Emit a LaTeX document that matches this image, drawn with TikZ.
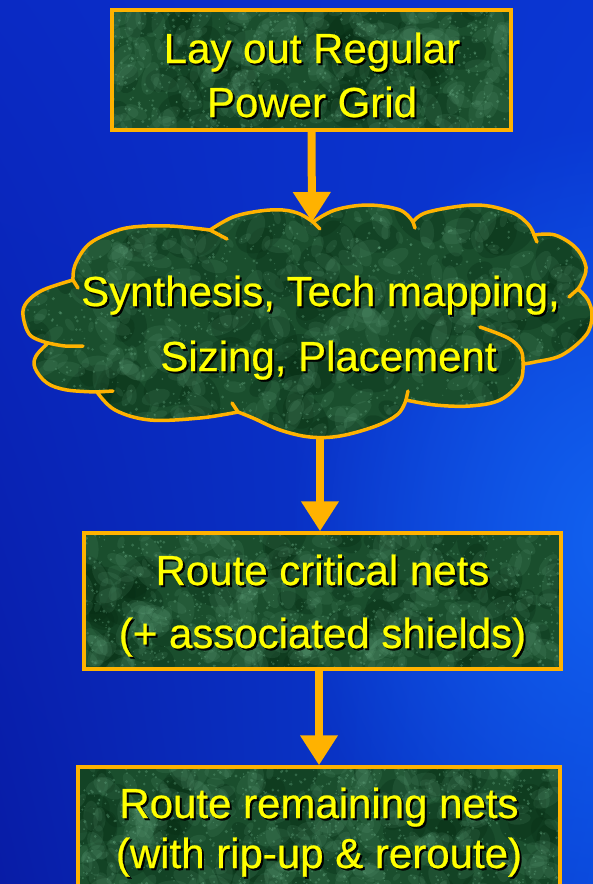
\documentclass[tikz,border=0pt]{standalone}
\usepackage{fontspec}
\setmainfont{Liberation Sans}
\usetikzlibrary{arrows.meta,fadings,shadings}
\tikzfading[name=glowfade, inner color=transparent!0, outer color=transparent!100]
\definecolor{bgUL}{HTML}{0A2AC4}
\definecolor{bgUR}{HTML}{0A36D2}
\definecolor{bgLL}{HTML}{081CA6}
\definecolor{bgLR}{HTML}{0A46DA}
\definecolor{glowc}{HTML}{1262F0}
\definecolor{gold}{HTML}{FFB200}
\definecolor{txty}{HTML}{FFFF00}
\definecolor{mbase}{HTML}{1A4E2D}
\definecolor{mdark}{HTML}{062C14}
\definecolor{mlight}{HTML}{6CAE88}
\newcommand\shtxt[1]{\rlap{\kern2pt\raisebox{-2pt}{\textcolor{black}{#1}}}\textcolor{txty}{#1}}
\newcommand\marble[8]{%
  \pgfmathsetseed{#1}%
  \fill[mbase] (#2,#3) rectangle (#4,#5);
  \foreach \i in {1,...,#6}{%
    \pgfmathsetmacro\mx{#2+rnd*(#4-#2)}%
    \pgfmathsetmacro\my{#3+rnd*(#5-#3)}%
    \pgfmathsetmacro\mr{8+rnd*16}%
    \pgfmathsetmacro\ma{rnd*180}%
    \fill[mdark,opacity=0.3,rotate around={\ma:(\mx,\my)}] (\mx,\my) ellipse [x radius=1.3*\mr, y radius=0.9*\mr];
  }
  \foreach \i in {1,...,#7}{%
    \pgfmathsetmacro\mx{#2+rnd*(#4-#2)}%
    \pgfmathsetmacro\my{#3+rnd*(#5-#3)}%
    \pgfmathsetmacro\mr{3+rnd*9}%
    \pgfmathsetmacro\ma{rnd*180}%
    \fill[mlight,opacity=0.13,rotate around={\ma:(\mx,\my)}] (\mx,\my) ellipse [x radius=1.5*\mr, y radius=0.75*\mr];
  }
  \foreach \i in {1,...,#8}{%
    \pgfmathsetmacro\mx{#2+rnd*(#4-#2)}%
    \pgfmathsetmacro\my{#3+rnd*(#5-#3)}%
    \pgfmathsetmacro\mr{0.5+rnd*1.2}%
    \fill[mlight,opacity=0.35] (\mx,\my) circle [radius=\mr];
  }
}
\tikzset{
  gbox/.style={draw=gold, line width=3.5pt, inner sep=0pt},
  btxt/.style={anchor=base, inner sep=0pt, font=\fontsize{42}{50}\selectfont\addfontfeature{FakeBold=0.6}},
  cloudline/.style={draw=gold, line width=3.5pt, line join=round, line cap=round},
  flow/.style={draw=gold, line width=8pt, -{Triangle[width=36pt,length=30pt]}}
}
\begin{document}
\begin{tikzpicture}[x=1pt,y=-1pt]
\useasboundingbox (0,0) rectangle (593,884);
\clip (0,0) rectangle (593,884);
\shade[upper left=bgUL, upper right=bgUR, lower left=bgLL, lower right=bgLR] (0,0) rectangle (593,884);
\fill[glowc, path fading=glowfade] (620,540) ellipse [x radius=330, y radius=420];

% box textures
\begin{scope}
  \clip (112,10) rectangle (511,130);
  \marble{11}{112}{10}{511}{130}{45}{220}{700}
\end{scope}
\begin{scope}
  \clip (84,533) rectangle (561,669);
  \marble{23}{84}{533}{561}{669}{60}{280}{900}
\end{scope}
\begin{scope}
  \clip (78,767) rectangle (560,895);
  \marble{37}{78}{767}{560}{895}{60}{280}{900}
\end{scope}

% cloud
\path[save path=\cloudp]
  plot[smooth,tension=0.6] coordinates {(313,222) (335,210) (368,205) (400,210) (413,222)}
  -- plot[smooth,tension=0.6] coordinates {(413,222) (428,212) (476,205) (511,212) (528,224) (534,235)}
  -- plot[smooth,tension=0.6] coordinates {(534,235) (555,235) (576,248) (586,267) (582,282) (578,289)}
  -- plot[smooth,tension=0.6] coordinates {(578,289) (588,300) (592,316) (586,335) (562,355) (535,362) (523,364)}
  -- plot[smooth,tension=0.6] coordinates {(523,364) (520,382) (500,400) (470,406) (435,405) (406,400)}
  -- plot[smooth,tension=0.6] coordinates {(406,400) (398,414) (376,426) (340,436) (310,437) (280,430) (253,418) (238,412)}
  -- plot[smooth,tension=0.6] coordinates {(238,412) (200,418) (150,420) (115,410) (97,392)}
  -- plot[smooth,tension=0.6] coordinates {(97,392) (67,390) (47,383) (35,368) (36,356) (48,343)}
  -- plot[smooth,tension=0.6] coordinates {(48,343) (30,335) (23,315) (27,302) (43,290) (73,280)}
  -- plot[smooth,tension=0.6] coordinates {(73,280) (75,265) (88,245) (110,233) (133,227) (170,226) (210,230)}
  -- plot[smooth,tension=0.6] coordinates {(210,230) (233,217) (260,211) (283,210) (300,214) (313,222)}
  -- cycle;
\begin{scope}
  \clip[use path=\cloudp];
  \marble{51}{18}{200}{596}{442}{90}{400}{1300}
\end{scope}
\path[cloudline, use path=\cloudp];
% inner arcs of the cloud
\draw[cloudline] (313,222) -- (320,229);
\draw[cloudline] (413,222) -- (415,228);
\draw[cloudline] (534,235) -- (537,242);
\draw[cloudline] (578,289) -- (569,297);
\draw[cloudline] plot[smooth,tension=0.6] coordinates {(523,364) (521,350) (508,338) (480,327)};
\draw[cloudline] (406,400) -- (408,391);
\draw[cloudline] (238,412) -- (232,403);
\draw[cloudline] (97,392) -- (113,391);
\draw[cloudline] plot[smooth,tension=0.6] coordinates {(48,343) (65,346) (83,346)};
\draw[cloudline] (73,280) -- (78,288);
\draw[cloudline] (210,230) -- (227,239);

% boxes
\node[gbox, minimum width=399pt, minimum height=120pt] (b1) at (311.5,70) {};
\node[gbox, minimum width=477pt, minimum height=136pt] (b3) at (322.5,601) {};
\node[gbox, minimum width=482pt, minimum height=128pt] (b4) at (319,831) {};

% texts
\node[btxt] (t1a) at (312,63) {\shtxt{Lay out Regular}};
\node[btxt] (t1b) at (312,117) {\shtxt{Power Grid}};
\node[btxt] (c1) at (320.5,306) {\shtxt{Synthesis, Tech mapping,}};
\node[btxt] (c2) at (328.5,371) {\shtxt{Sizing, Placement}};
\node[btxt] (t3a) at (322.5,585) {\shtxt{Route critical nets}};
\node[btxt] (t3b) at (322.5,648) {\shtxt{(+ associated shields)}};
\node[btxt] (t4a) at (319,818) {\shtxt{Route remaining nets}};
\node[btxt] (t4b) at (319,868) {\shtxt{(with rip-up \& reroute)}};

% connectors
\coordinate (ctop) at (312,222);
\coordinate (cbot) at (320,437);
\draw[flow] (b1.south) -- (ctop);
\draw[flow] (cbot) -- (cbot |- b3.north);
\draw[flow] (b3.south -| b4.north) -- (b4.north);
\end{tikzpicture}
\end{document}
